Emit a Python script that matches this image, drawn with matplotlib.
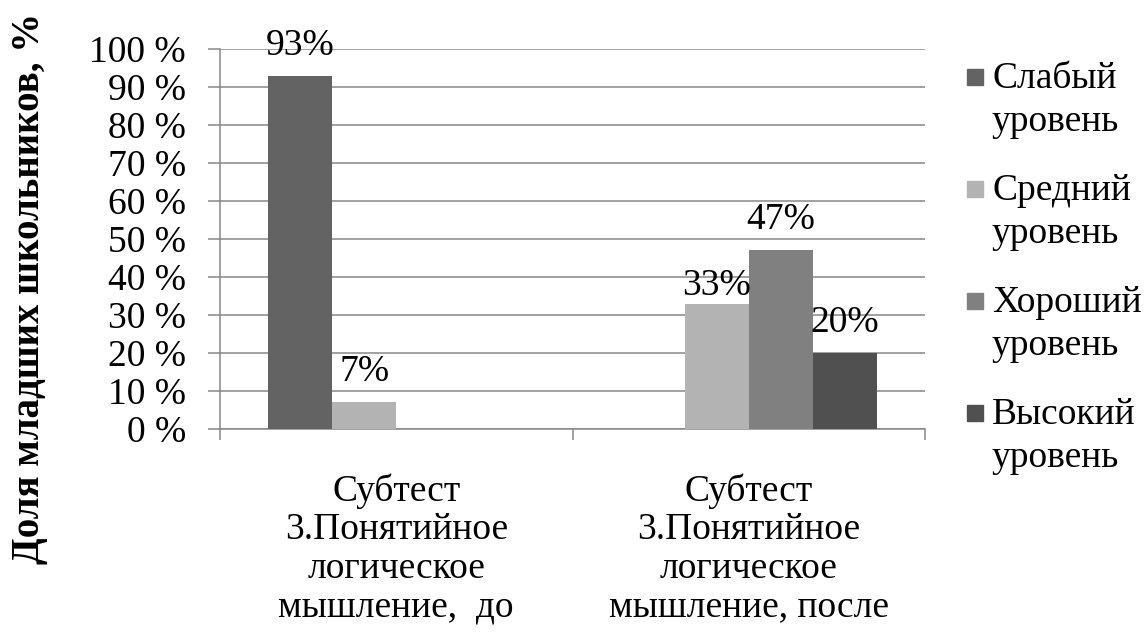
import matplotlib
matplotlib.use("Agg")
import matplotlib.pyplot as plt
from matplotlib.patches import Rectangle
import numpy as np

SERIF = "Liberation Serif"
plt.rcParams['font.family'] = SERIF

categories = ["Субтест\n3.Понятийное\nлогическое\nмышление,  до",
              "Субтест\n3.Понятийное\nлогическое\nмышление, после"]
series_names = ["Слабый\nуровень", "Средний\nуровень", "Хороший\nуровень", "Высокий\nуровень"]
weak = [93, 0]
medium = [7, 33]
good = [0, 47]
high = [0, 20]
y_ticks = [0, 10, 20, 30, 40, 50, 60, 70, 80, 90, 100]
y_tick_labels = [f"{v} %" for v in y_ticks]
y_label = "Доля младших школьников, %"

colors = ["#636363", "#b3b3b3", "#808080", "#505050"]
series = [weak, medium, good, high]

W, H = 1147, 635
fig = plt.figure(figsize=(W / 100, H / 100), dpi=100)
ax = fig.add_axes([220 / W, 1 - 429 / H, (925 - 220) / W, (429 - 49) / H])

FS = 27
GRID = "#878787"
x = np.arange(len(categories))
bw = 0.182
offsets = [-1.5, -0.5, 0.5, 1.5]
# label lift above each bar top, in pixels (one label sits lower)
lift = {(1, 1): 9}
for si, (vals, col) in enumerate(zip(series, colors)):
    bars = ax.bar(x + offsets[si] * bw, vals, width=bw, color=col, zorder=3)
    for ci, (b, v) in enumerate(zip(bars, vals)):
        if v:
            ax.annotate(f"{v}%", (b.get_x() + b.get_width() / 2, v),
                        xytext=(0, lift.get((si, ci), 21) * 0.72),
                        textcoords="offset points", ha="center", va="baseline",
                        fontsize=FS, family=SERIF, color="#000000", zorder=4)

ax.set_xlim(-0.5, len(categories) - 0.5)
ax.set_ylim(0, 100)
ax.set_yticks(y_ticks)
ax.set_yticklabels(y_tick_labels, family=SERIF, fontsize=FS)
ax.yaxis.grid(True, color=GRID, linewidth=1.1, zorder=0)
ax.tick_params(axis="y", length=8.5, width=1.1, color=GRID, pad=16)

# category boundary ticks and centred category labels
ax.set_xticks(np.arange(len(categories) + 1) - 0.5)
ax.set_xticklabels([])
ax.tick_params(axis="x", which="major", length=8, width=1.1, color=GRID)
ax.set_xticks(x, minor=True)
ax.set_xticklabels(categories, minor=True, fontsize=FS, family=SERIF, linespacing=1.15)
ax.tick_params(axis="x", which="minor", length=0, pad=32)

for s in ["top", "right"]:
    ax.spines[s].set_visible(False)
for s in ["left", "bottom"]:
    ax.spines[s].set_color(GRID)
    ax.spines[s].set_linewidth(1.1)

fig.text(30 / W, 1 - 288 / H, y_label, rotation=90, ha="center", va="center",
         fontsize=28, family=SERIF, fontweight="bold")

# legend: swatch beside the first line of each two-line entry
for i, (name, col) in enumerate(zip(series_names, colors)):
    y_first = 77 + i * 112
    fig.add_artist(Rectangle((967 / W, 1 - (y_first + 8) / H), 16 / W, 16 / H,
                             transform=fig.transFigure, color=col))
    fig.text(992 / W, 1 - (y_first + 23) / H, name, ha="left", va="center",
             fontsize=FS, family=SERIF, linespacing=1.32)

fig.savefig("out.png", dpi=100)
